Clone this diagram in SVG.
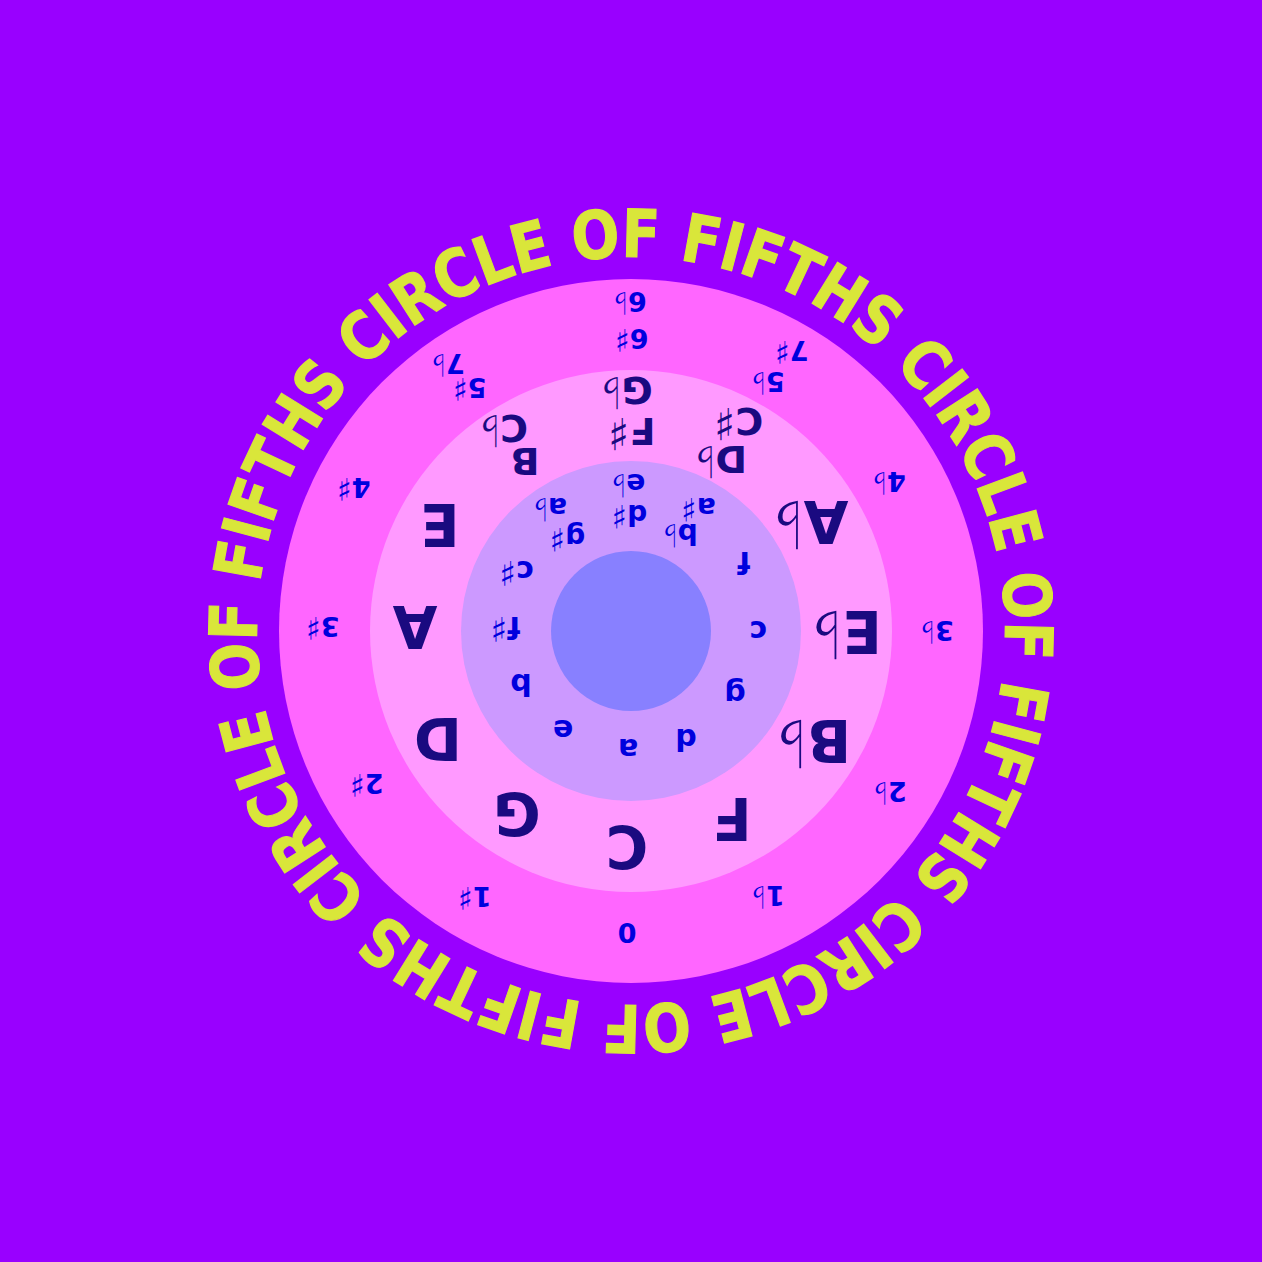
<svg xmlns="http://www.w3.org/2000/svg" width="1262" height="1262" viewBox="0 0 1262 1262">
<defs>
<style>
text { font-family: "DejaVu Sans", "Liberation Sans", sans-serif; font-weight: bold; text-anchor: middle; }
.maj { font-size: 58px; fill: #1a0a80; }
.majp { font-size: 38px; fill: #1a0a80; }
.min { font-size: 30px; fill: #0000dd; }
.minp { font-size: 28px; fill: #0000dd; }
.sig { font-size: 27px; fill: #0000dd; }
.e { text-anchor: end; }
.s { text-anchor: start; font-weight: normal; }
.maj.s { font-size: 66px; }
.majp.s { font-size: 44px; }
.min.s { font-size: 34px; }
.minp.s { font-size: 32px; }
.sig.s { font-size: 31px; }
.title { font-size: 66px; fill: #d9e63a; stroke: #d9e63a; stroke-width: 1.2px; text-anchor: start; }
</style>
<path id="titlePath" d="M 368.86 897.76 A 374 374 0 1 1 893.14 364.24 A 374 374 0 1 1 368.86 897.76"/>
</defs>
<rect width="1262" height="1262" fill="#9900ff"/>
<g id="title"><text class="title"><textPath href="#titlePath" textLength="2330" lengthAdjust="spacingAndGlyphs">CIRCLE OF FIFTHS CIRCLE OF FIFTHS CIRCLE OF FIFTHS CIRCLE OF FIFTHS</textPath></text></g>
<g id="wheel" transform="rotate(180 631 631)">
  <g id="rings">
    <circle id="ring-signatures" cx="631" cy="631" r="352" fill="#ff66ff"/>
    <circle id="ring-major" cx="631" cy="631" r="261" fill="#ff99ff"/>
    <circle id="ring-minor" cx="631" cy="631" r="170" fill="#cc99ff"/>
    <circle id="hub" cx="631" cy="631" r="80" fill="#8880ff"/>
  </g>
  <g id="major-keys">
    <g id="key-C"><text class="maj" x="635" y="436">C</text></g>
    <g id="key-G"><text class="maj" x="745" y="469">G</text></g>
    <g id="key-F"><text class="maj" x="530" y="464">F</text></g>
    <g id="key-D"><text class="maj" x="824" y="544">D</text></g>
    <g id="key-Bb"><text class="maj e" x="455" y="542">B</text><text class="maj s" x="455" y="542">♭</text></g>
    <g id="key-A"><text class="maj" x="847" y="656">A</text></g>
    <g id="key-Eb"><text class="maj e" x="419.7" y="651">E</text><text class="maj s" x="419.7" y="651">♭</text></g>
    <g id="key-E"><text class="maj" x="822" y="758">E</text></g>
    <g id="key-Ab"><text class="maj e" x="458.3" y="761">A</text><text class="maj s" x="458.3" y="761">♭</text></g>
    <g id="key-B"><text class="majp" x="737" y="814">B</text></g>
    <g id="key-Cb"><text class="majp e" x="761.8" y="847">C</text><text class="majp s" x="761.8" y="847">♭</text></g>
    <g id="key-Fs"><text class="majp e" x="632.6" y="844">F</text><text class="majp s" x="632.6" y="844">♯</text></g>
    <g id="key-Gb"><text class="majp e" x="640.4" y="885">G</text><text class="majp s" x="640.4" y="885">♭</text></g>
    <g id="key-Db"><text class="majp e" x="546.6" y="816">D</text><text class="majp s" x="546.6" y="816">♭</text></g>
    <g id="key-Cs"><text class="majp e" x="526.6" y="854">C</text><text class="majp s" x="526.6" y="854">♯</text></g>
  </g>
  <g id="minor-keys">
    <g id="min-a"><text class="min" x="634" y="523">a</text></g>
    <g id="min-e"><text class="min" x="699" y="542">e</text></g>
    <g id="min-d"><text class="min" x="576" y="533">d</text></g>
    <g id="min-b"><text class="min" x="741" y="588">b</text></g>
    <g id="min-g"><text class="min" x="527" y="578">g</text></g>
    <g id="min-fs"><text class="min e" x="754.7" y="645">f</text><text class="min s" x="754.7" y="645">♯</text></g>
    <g id="min-c"><text class="min" x="504" y="641">c</text></g>
    <g id="min-cs"><text class="min e" x="746.1" y="701">c</text><text class="min s" x="746.1" y="701">♯</text></g>
    <g id="min-f"><text class="min" x="518" y="710">f</text></g>
    <g id="min-gs"><text class="minp e" x="696.7" y="734">g</text><text class="minp s" x="696.7" y="734">♯</text></g>
    <g id="min-ab"><text class="minp e" x="713.8" y="764">a</text><text class="minp s" x="713.8" y="764">♭</text></g>
    <g id="min-ds"><text class="minp e" x="634.7" y="757">d</text><text class="minp s" x="634.7" y="757">♯</text></g>
    <g id="min-eb"><text class="minp e" x="635.8" y="788">e</text><text class="minp s" x="635.8" y="788">♭</text></g>
    <g id="min-bb"><text class="minp e" x="584.3" y="738">b</text><text class="minp s" x="584.3" y="738">♭</text></g>
    <g id="min-as"><text class="minp e" x="565.2" y="764">a</text><text class="minp s" x="565.2" y="764">♯</text></g>
  </g>
  <g id="signatures">
    <g id="sig-0"><text class="sig" x="635" y="339">0</text></g>
    <g id="sig-1s"><text class="sig e" x="789.4" y="375">1</text><text class="sig s" x="789.4" y="375">♯</text></g>
    <g id="sig-1b"><text class="sig e" x="496" y="376">1</text><text class="sig s" x="496" y="376">♭</text></g>
    <g id="sig-2s"><text class="sig e" x="897.4" y="488">2</text><text class="sig s" x="897.4" y="488">♯</text></g>
    <g id="sig-2b"><text class="sig e" x="374" y="480">2</text><text class="sig s" x="374" y="480">♭</text></g>
    <g id="sig-3s"><text class="sig e" x="941.4" y="645">3</text><text class="sig s" x="941.4" y="645">♯</text></g>
    <g id="sig-3b"><text class="sig e" x="327" y="641">3</text><text class="sig s" x="327" y="641">♭</text></g>
    <g id="sig-4s"><text class="sig e" x="910.4" y="784">4</text><text class="sig s" x="910.4" y="784">♯</text></g>
    <g id="sig-4b"><text class="sig e" x="375" y="790">4</text><text class="sig s" x="375" y="790">♭</text></g>
    <g id="sig-5s"><text class="sig e" x="794.4" y="884">5</text><text class="sig s" x="794.4" y="884">♯</text></g>
    <g id="sig-5b"><text class="sig e" x="496" y="890">5</text><text class="sig s" x="496" y="890">♭</text></g>
    <g id="sig-6s"><text class="sig e" x="632.4" y="933">6</text><text class="sig s" x="632.4" y="933">♯</text></g>
    <g id="sig-6b"><text class="sig e" x="634" y="970">6</text><text class="sig s" x="634" y="970">♭</text></g>
    <g id="sig-7s"><text class="sig e" x="472.4" y="921">7</text><text class="sig s" x="472.4" y="921">♯</text></g>
    <g id="sig-7b"><text class="sig e" x="816" y="908">7</text><text class="sig s" x="816" y="908">♭</text></g>
  </g>
</g>
</svg>
